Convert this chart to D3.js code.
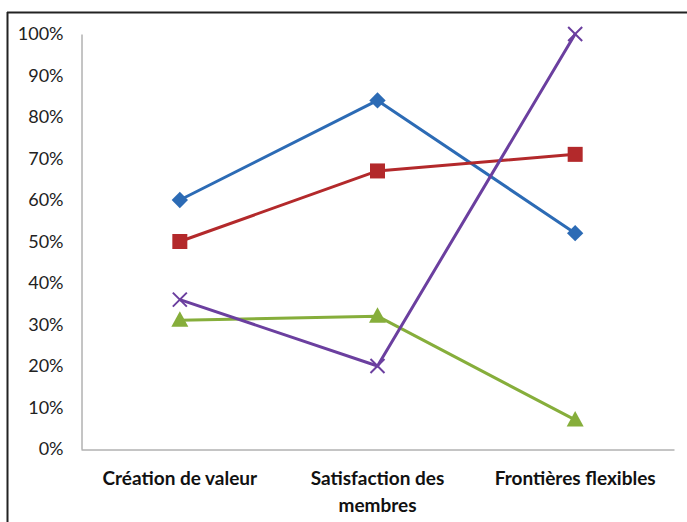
<!DOCTYPE html>
<html><head><meta charset="utf-8">
<script src="https://cdn.jsdelivr.net/npm/d3@7/dist/d3.min.js"></script>
<style>html,body{margin:0;padding:0;background:#fff;}svg{display:block;}</style>
</head><body>
<svg id="c" width="687" height="522"></svg>
<script>
const categories = ["Création de valeur", "Satisfaction des membres", "Frontières flexibles"];
const categoryLines = [["Création de valeur"], ["Satisfaction des", "membres"], ["Frontières flexibles"]];
const blueValues = [0.60, 0.84, 0.52];
const redValues = [0.50, 0.67, 0.71];
const greenValues = [0.31, 0.32, 0.07];
const purpleValues = [0.36, 0.20, 1.00];
const yTicks = [0, 0.1, 0.2, 0.3, 0.4, 0.5, 0.6, 0.7, 0.8, 0.9, 1.0];

const series = [
  {values: blueValues, color: "#2c6bb5", marker: "diamond"},
  {values: redValues, color: "#b3292b", marker: "square"},
  {values: greenValues, color: "#86ae3b", marker: "triangle"},
  {values: purpleValues, color: "#6b3f9f", marker: "x"}
];

const svg = d3.select("#c");
const plotLeft = 81, plotRight = 674, plotTop = 34, plotBottom = 449;

// outer frame (top and left edges)
svg.append("line").attr("x1", 7).attr("x2", 687).attr("y1", 12.5).attr("y2", 12.5).attr("stroke", "#222").attr("stroke-width", 2);
svg.append("line").attr("x1", 7.5).attr("x2", 7.5).attr("y1", 12).attr("y2", 522).attr("stroke", "#222").attr("stroke-width", 2);

const x = d3.scaleBand().domain(categories).range([plotLeft, plotRight]);
const y = d3.scaleLinear().domain([0, 1]).range([plotBottom, plotTop]);

const yAxis = d3.axisLeft(y).tickValues(yTicks).tickFormat(d3.format(".0%")).tickSize(0).tickPadding(18);
const gy = svg.append("g").attr("transform", `translate(${plotLeft + 0.5},0)`).call(yAxis);
gy.select(".domain").attr("stroke", "#8a8a8a");
gy.selectAll("text").attr("font-family", "Lato, 'Open Sans', sans-serif").attr("font-size", 18).attr("fill", "#222");

const xAxis = d3.axisBottom(x).tickSize(0).tickFormat("");
const gx = svg.append("g").attr("transform", `translate(0,${plotBottom + 0.5})`).call(xAxis);
gx.select(".domain").attr("stroke", "#8a8a8a");

const xc = d => x(d) + x.bandwidth() / 2;
categories.forEach((c, i) => {
  const t = svg.append("text").attr("text-anchor", "middle")
    .attr("font-family", "Lato, 'Open Sans', sans-serif").attr("font-weight", "bold")
    .attr("font-size", 19).attr("fill", "#111");
  categoryLines[i].forEach((ln, j) => {
    t.append("tspan").attr("x", xc(c)).attr("y", 485 + j * 27).text(ln);
  });
});

const line = d3.line().x((d, i) => xc(categories[i])).y(d => y(d));

series.forEach(s => {
  svg.append("path").datum(s.values).attr("d", line).attr("fill", "none")
    .attr("stroke", s.color).attr("stroke-width", 3).attr("stroke-linejoin", "round");
});

series.forEach(s => {
  s.values.forEach((v, i) => {
    const cx = xc(categories[i]), cy = y(v);
    if (s.marker === "diamond") {
      svg.append("path").attr("d", d3.symbol(d3.symbolDiamond2, 170)()).attr("transform", `translate(${cx},${cy})`).attr("fill", s.color);
    } else if (s.marker === "square") {
      svg.append("rect").attr("x", cx - 7.5).attr("y", cy - 7.5).attr("width", 15).attr("height", 15).attr("fill", s.color);
    } else if (s.marker === "triangle") {
      svg.append("path").attr("d", `M${cx},${cy - 9}L${cx + 8.5},${cy + 6.5}L${cx - 8.5},${cy + 6.5}Z`).attr("fill", s.color);
    } else {
      svg.append("path").attr("d", d3.symbol(d3.symbolX, 130)()).attr("transform", `translate(${cx},${cy})`)
        .attr("fill", "none").attr("stroke", s.color).attr("stroke-width", 2);
    }
  });
});
</script>
</body></html>
